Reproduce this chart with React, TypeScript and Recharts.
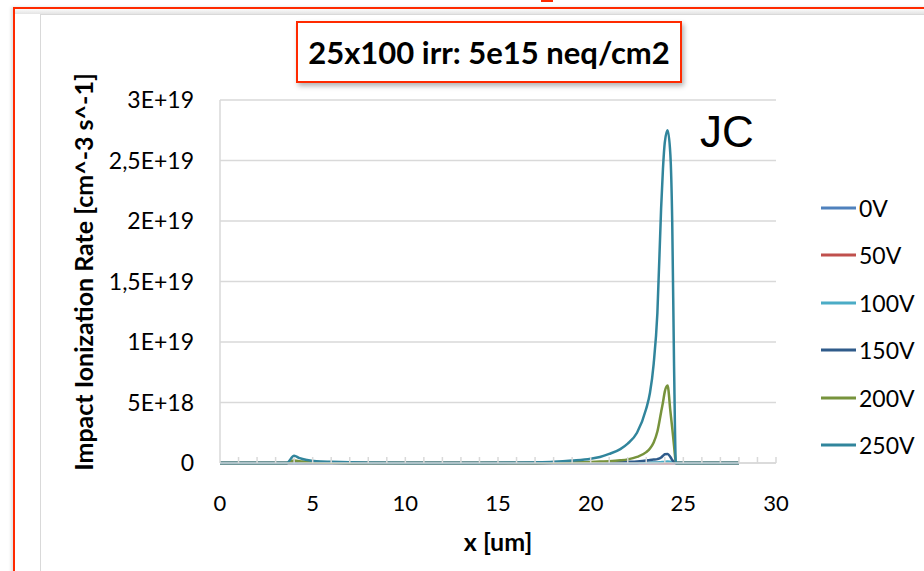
import React from 'react';
import { LineChart, Line, XAxis, YAxis, CartesianGrid } from 'recharts';

// x positions in um
const xs = [0, 1, 2, 3, 3.6, 4, 4.3, 4.7, 5.2, 6, 7, 8, 10, 12, 14, 16, 17, 18, 19, 20, 20.5, 21, 21.6, 22, 22.5, 23, 23.2, 23.4, 23.6, 23.8, 23.9, 24, 24.15, 24.3, 24.4, 24.5, 24.6, 25, 26, 27, 28];

// impact ionization rate, in units of 1E+18 cm^-3 s^-1
const v0 = xs.map(() => 0);
const v50 = xs.map(() => 0);
const v100 = [0, 0, 0, 0, 0, 0, 0, 0, 0, 0, 0, 0, 0, 0, 0, 0, 0, 0, 0, 0, 0, 0, 0, 0, 0.01, 0.02, 0.03, 0.04, 0.05, 0.07, 0.08, 0.1, 0.12, 0.1, 0.08, 0.05, 0, 0, 0, 0, 0];
const v150 = [0, 0, 0, 0, 0, 0.1, 0.08, 0.05, 0.03, 0.02, 0.01, 0, 0, 0, 0, 0, 0.01, 0.02, 0.03, 0.04, 0.05, 0.06, 0.08, 0.1, 0.13, 0.2, 0.25, 0.28, 0.32, 0.45, 0.6, 0.72, 0.75, 0.5, 0.25, 0.1, 0, 0, 0, 0, 0];
const v200 = [0, 0, 0, 0, 0, 0.2, 0.15, 0.08, 0.04, 0.02, 0.01, 0, 0, 0, 0, 0, 0.01, 0.02, 0.04, 0.08, 0.12, 0.15, 0.22, 0.3, 0.5, 0.9, 1.2, 1.7, 2.6, 4.2, 5.0, 5.9, 6.4, 4.3, 2.9, 1.4, 0, 0, 0, 0, 0];
const v250 = [0, 0, 0, 0, 0, 0.6, 0.4, 0.25, 0.15, 0.1, 0.06, 0.03, 0.01, 0, 0, 0.02, 0.05, 0.1, 0.2, 0.35, 0.5, 0.75, 1.15, 1.6, 2.5, 4.5, 5.8, 8.2, 12.4, 21, 24.3, 26.5, 27.5, 25.5, 20, 8, 0, 0, 0, 0, 0];

const seriesNames = ['0V', '50V', '100V', '150V', '200V', '250V'];
const seriesColors = ['#4F81BD', '#C0504D', '#4BACC6', '#2F5B8A', '#77933C', '#31859C'];
const seriesValues = [v0, v50, v100, v150, v200, v250];

const yTicks = [0, 5, 10, 15, 20, 25, 30];
const yTickLabels = ['0', '5E+18', '1E+19', '1,5E+19', '2E+19', '2,5E+19', '3E+19'];
const xTicks = Array.from({ length: 31 }, (_, i) => i);

const data = xs.map((x, i) => {
  const row: Record<string, number> = { x };
  seriesNames.forEach((n, k) => {
    row[n] = seriesValues[k][i];
  });
  return row;
});

const FONT = 'Lato, "Open Sans", sans-serif';

const XTick = (props: any) => {
  const { x, y, payload } = props;
  const v = payload.value;
  return (
    <g>
      {v > 0 && <line x1={x} x2={x} y1={y} y2={y - 6} stroke="#D9D9D9" strokeWidth={1.5} />}
      {v % 5 === 0 && (
        <text x={x} y={y + 39} textAnchor="middle" dominantBaseline="central" fontSize={22} fill="#000" fontFamily={FONT}>
          {v}
        </text>
      )}
    </g>
  );
};

export default function App() {
  return (
    <div style={{ position: 'absolute', left: 0, top: 0, width: 924, height: 571, overflow: 'hidden', background: '#fff' }}>
      {/* outer frame */}
      <div style={{ position: 'absolute', left: 13, top: 7, width: 1000, height: 700, border: '2px solid #FF2A00', boxShadow: '-2px 0 3px rgba(0,0,0,0.12)' }} />
      <div style={{ position: 'absolute', left: 15, top: 9, width: 1000, height: 5, background: 'linear-gradient(#fafafa, #e4e4e4)' }} />
      <div style={{ position: 'absolute', left: 40, top: 14, width: 1000, height: 700, borderLeft: '1.5px solid #D9D9D9', borderTop: '1.5px solid #D9D9D9' }} />
      <div style={{ position: 'absolute', left: 541, top: 0, width: 12, height: 2, background: '#FF2A00' }} />

      <div style={{ position: 'absolute', left: 0, top: 0 }}>
        <LineChart width={924} height={571} data={data} margin={{ top: 100, right: 148, bottom: 48, left: 0 }}>
          <CartesianGrid horizontal vertical={false} stroke="#D9D9D9" strokeWidth={1.5} />
          <XAxis
            dataKey="x"
            type="number"
            domain={[0, 30]}
            ticks={xTicks}
            interval={0}
            height={60}
            tickLine={false}
            tickSize={0}
            tickMargin={0}
            axisLine={{ stroke: '#D9D9D9', strokeWidth: 1.5 }}
            tick={<XTick />}
          />
          <YAxis
            type="number"
            domain={[0, 30]}
            ticks={yTicks}
            interval={0}
            width={220}
            tickLine={false}
            tickSize={0}
            tickMargin={26}
            axisLine={{ stroke: '#D9D9D9', strokeWidth: 1.5 }}
            tickFormatter={(v: number) => yTickLabels[yTicks.indexOf(v)]}
            tick={{ fontSize: 23, fill: '#000', fontFamily: FONT }}
          />
          {seriesNames.map((n, k) => (
            <Line
              key={n}
              type="monotone"
              dataKey={n}
              stroke={seriesColors[k]}
              strokeWidth={2.5}
              dot={false}
              isAnimationActive={false}
            />
          ))}
        </LineChart>
      </div>

      {/* title box */}
      <div
        style={{
          position: 'absolute', left: 296, top: 21, width: 382, height: 58,
          border: '2px solid #FF2A00', background: '#fff', boxShadow: '2px 3px 5px rgba(0,0,0,0.3)',
          display: 'flex', alignItems: 'center', justifyContent: 'center',
          fontFamily: FONT, fontWeight: 700, fontSize: 31, color: '#000', whiteSpace: 'nowrap',
        }}
      >
        25x100 irr: 5e15 neq/cm2
      </div>

      {/* axis titles */}
      <div
        style={{
          position: 'absolute', left: 83, top: 272, transform: 'translate(-50%, -50%) rotate(-90deg)',
          fontFamily: FONT, fontWeight: 700, fontSize: 25, color: '#000', whiteSpace: 'nowrap', lineHeight: 1,
        }}
      >
        Impact Ionization Rate [cm^-3 s^-1]
      </div>
      <div
        style={{
          position: 'absolute', left: 498, top: 541, transform: 'translate(-50%, -50%)',
          fontFamily: FONT, fontWeight: 700, fontSize: 25, color: '#000', whiteSpace: 'nowrap', lineHeight: 1,
        }}
      >
        x [um]
      </div>

      {/* annotation */}
      <svg style={{ position: 'absolute', left: 0, top: 0 }} width={924} height={571}>
        <text x={700} y={147} fontFamily='"Liberation Sans", Arial, sans-serif' fontSize={44} fill="#000">JC</text>
      </svg>

      {/* legend */}
      {seriesNames.map((n, k) => (
        <div key={n} style={{ position: 'absolute', left: 821, top: 208 + k * 47.4, transform: 'translateY(-50%)', display: 'flex', alignItems: 'center' }}>
          <div style={{ width: 35, height: 3, background: seriesColors[k] }} />
          <span style={{ marginLeft: 3, fontFamily: FONT, fontSize: 23, color: '#000', lineHeight: 1 }}>{n}</span>
        </div>
      ))}
    </div>
  );
}
